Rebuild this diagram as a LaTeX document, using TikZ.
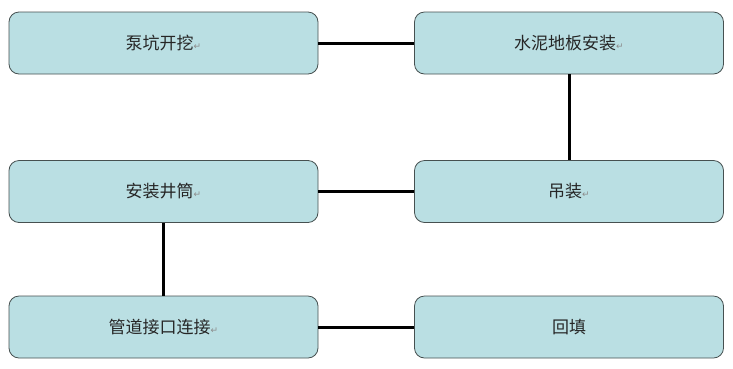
\documentclass[tikz,border=0pt]{standalone}
\usepackage{fontspec}
\newfontfamily\cjk{Noto Sans CJK SC}
\newfontfamily\symf{DejaVu Sans}
\definecolor{boxfill}{RGB}{186,223,227}
\definecolor{boxline}{RGB}{70,80,80}
\definecolor{markgray}{RGB}{140,140,140}
\newcommand{\pmark}{{\symf\fontsize{9}{10}\selectfont\textcolor{markgray}{↵}}}
\begin{document}
\begin{tikzpicture}[x=1pt,y=-1pt,
  stepbox/.style={draw=boxline, line width=0.8pt, fill=boxfill, rounded corners=10pt,
    minimum width=309pt, minimum height=62pt, inner sep=0pt,
    font=\cjk\fontsize{17}{19}\selectfont, text=black!85},
  link/.style={line width=3pt, black}]
\useasboundingbox (0,0) rectangle (733,368);
\node[stepbox] (a) at (163.5,43) {泵坑开挖\pmark};
\node[stepbox] (b) at (569,43) {水泥地板安装\pmark};
\node[stepbox] (c) at (569,191.5) {吊装\pmark};
\node[stepbox] (d) at (163.5,191.5) {安装井筒\pmark};
\node[stepbox] (e) at (163.5,327) {管道接口连接\pmark};
\node[stepbox] (f) at (569,327) {回填};
\draw[link] (a) -- (b);
\draw[link] (b) -- (c);
\draw[link] (c) -- (d);
\draw[link] (d) -- (e);
\draw[link] (e) -- (f);
\end{tikzpicture}
\end{document}
